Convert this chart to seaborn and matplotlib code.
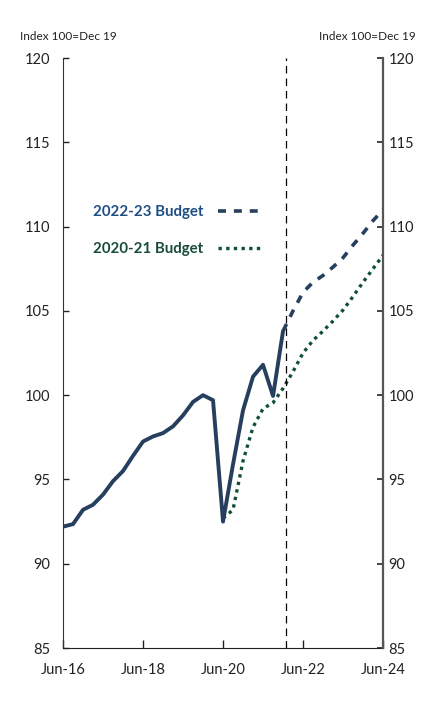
import pandas as pd
import matplotlib
matplotlib.use("Agg")
import matplotlib.pyplot as plt
import seaborn as sns

# quarterly index, Jun-16 = position 0
start_quarter = "2016Q2"

actual = [92.2, 92.35, 93.2, 93.5, 94.1, 94.9, 95.5, 96.4, 97.25, 97.55, 97.75, 98.15,
          98.8, 99.6, 100.0, 99.7, 92.5, 95.9, 99.1, 101.1, 101.8, 99.95, 103.8]

# 2022-23 Budget forecast, Dec-21 to Jun-24
budget_2223_start = "2021Q4"
budget_2223 = [103.8, 105.0, 106.1, 106.7, 107.1, 107.6, 108.15, 108.9, 109.6, 110.35, 111.0]

# 2020-21 Budget forecast, Jun-20 to Jun-24
budget_2021_start = "2020Q2"
budget_2021 = [92.7, 93.2, 96.1, 98.1, 99.2, 99.55, 100.4, 101.4, 102.5, 103.25, 103.8,
               104.4, 105.05, 105.85, 106.7, 107.5, 108.3]

tick_labels = ["Jun-16", "Jun-18", "Jun-20", "Jun-22", "Jun-24"]
y_ticks = [85, 90, 95, 100, 105, 110, 115, 120]
unit_label = "Index 100=Dec 19"
budget_marker = 22.25  # quarters after Jun-16


def to_frame(values, start):
    periods = pd.period_range(start, periods=len(values), freq="Q")
    base = pd.Period(start_quarter, freq="Q")
    pos = [(p - base).n for p in periods]
    return pd.DataFrame({"pos": pos, "value": values})


navy = "#263f5f"
green = "#104e3c"

sns.set_style("ticks")
plt.rcParams["font.family"] = ["Lato", "DejaVu Sans"]

fig = plt.figure(figsize=(4.37, 7.10), dpi=100)
ax = fig.add_axes([0.1442, 0.0873, 0.7323, 0.831])

df_act = to_frame(actual, start_quarter)
df_2223 = to_frame(budget_2223, budget_2223_start)
df_2021 = to_frame(budget_2021, budget_2021_start)

sns.lineplot(data=df_2021, x="pos", y="value", ax=ax, color=green, linewidth=2.4,
             linestyle=(0, (1.0, 1.3)), label="2020-21 Budget")
sns.lineplot(data=df_2223, x="pos", y="value", ax=ax, color=navy, linewidth=2.6,
             linestyle=(0, (2.2, 2.2)), label="2022-23 Budget")
sns.lineplot(data=df_act, x="pos", y="value", ax=ax, color=navy, linewidth=2.8)

ax.axvline(budget_marker, color="black", linewidth=0.9, linestyle=(0, (6, 4)))

ax.set_xlim(0, 32)
ax.set_ylim(85, 120)
ax.set_xticks([0, 8, 16, 24, 32])
ax.set_xticklabels(tick_labels)
ax.set_yticks(y_ticks)
ax.set_xlabel("")
ax.set_ylabel("")

ax2 = ax.twinx()
ax2.set_ylim(85, 120)
ax2.set_yticks(y_ticks)

for a in (ax, ax2):
    a.spines["top"].set_visible(False)
ax.spines["right"].set_visible(False)
ax2.spines["left"].set_visible(False)
ax2.spines["bottom"].set_visible(False)
ax.spines["left"].set_color("#333333")
ax.spines["bottom"].set_color("#222222")
ax2.spines["right"].set_color("#555555")
ax2.spines["right"].set_linewidth(1.6)

ax.tick_params(axis="x", direction="in", length=6, width=1, pad=11, labelsize=10.5, colors="#222222")
ax.tick_params(axis="y", direction="in", length=4, width=1, pad=9, labelsize=10.5, colors="#222222")
ax2.tick_params(axis="y", direction="in", length=4, width=1.2, pad=4, labelsize=10.5, colors="#222222")

fig.text(20 / 437, 1 - 37 / 710, unit_label, fontsize=8.5, ha="left", va="center", color="#222222")
fig.text(416 / 437, 1 - 37 / 710, unit_label, fontsize=8.5, ha="right", va="center", color="#222222")

handles, labels = ax.get_legend_handles_labels()
order = [labels.index("2022-23 Budget"), labels.index("2020-21 Budget")]
leg = ax.legend([handles[i] for i in order], [labels[i] for i in order],
                loc="upper left", bbox_to_anchor=(0.094, 0.751), frameon=False,
                markerfirst=False, fontsize=10.8, handlelength=2.9, handletextpad=1.0,
                labelspacing=1.55, borderpad=0, borderaxespad=0)
text_colors = ["#1f4e85", "#174c3a"]
for t, c in zip(leg.get_texts(), text_colors):
    t.set_color(c)
    t.set_fontweight("bold")

fig.savefig("out.png", dpi=100)
